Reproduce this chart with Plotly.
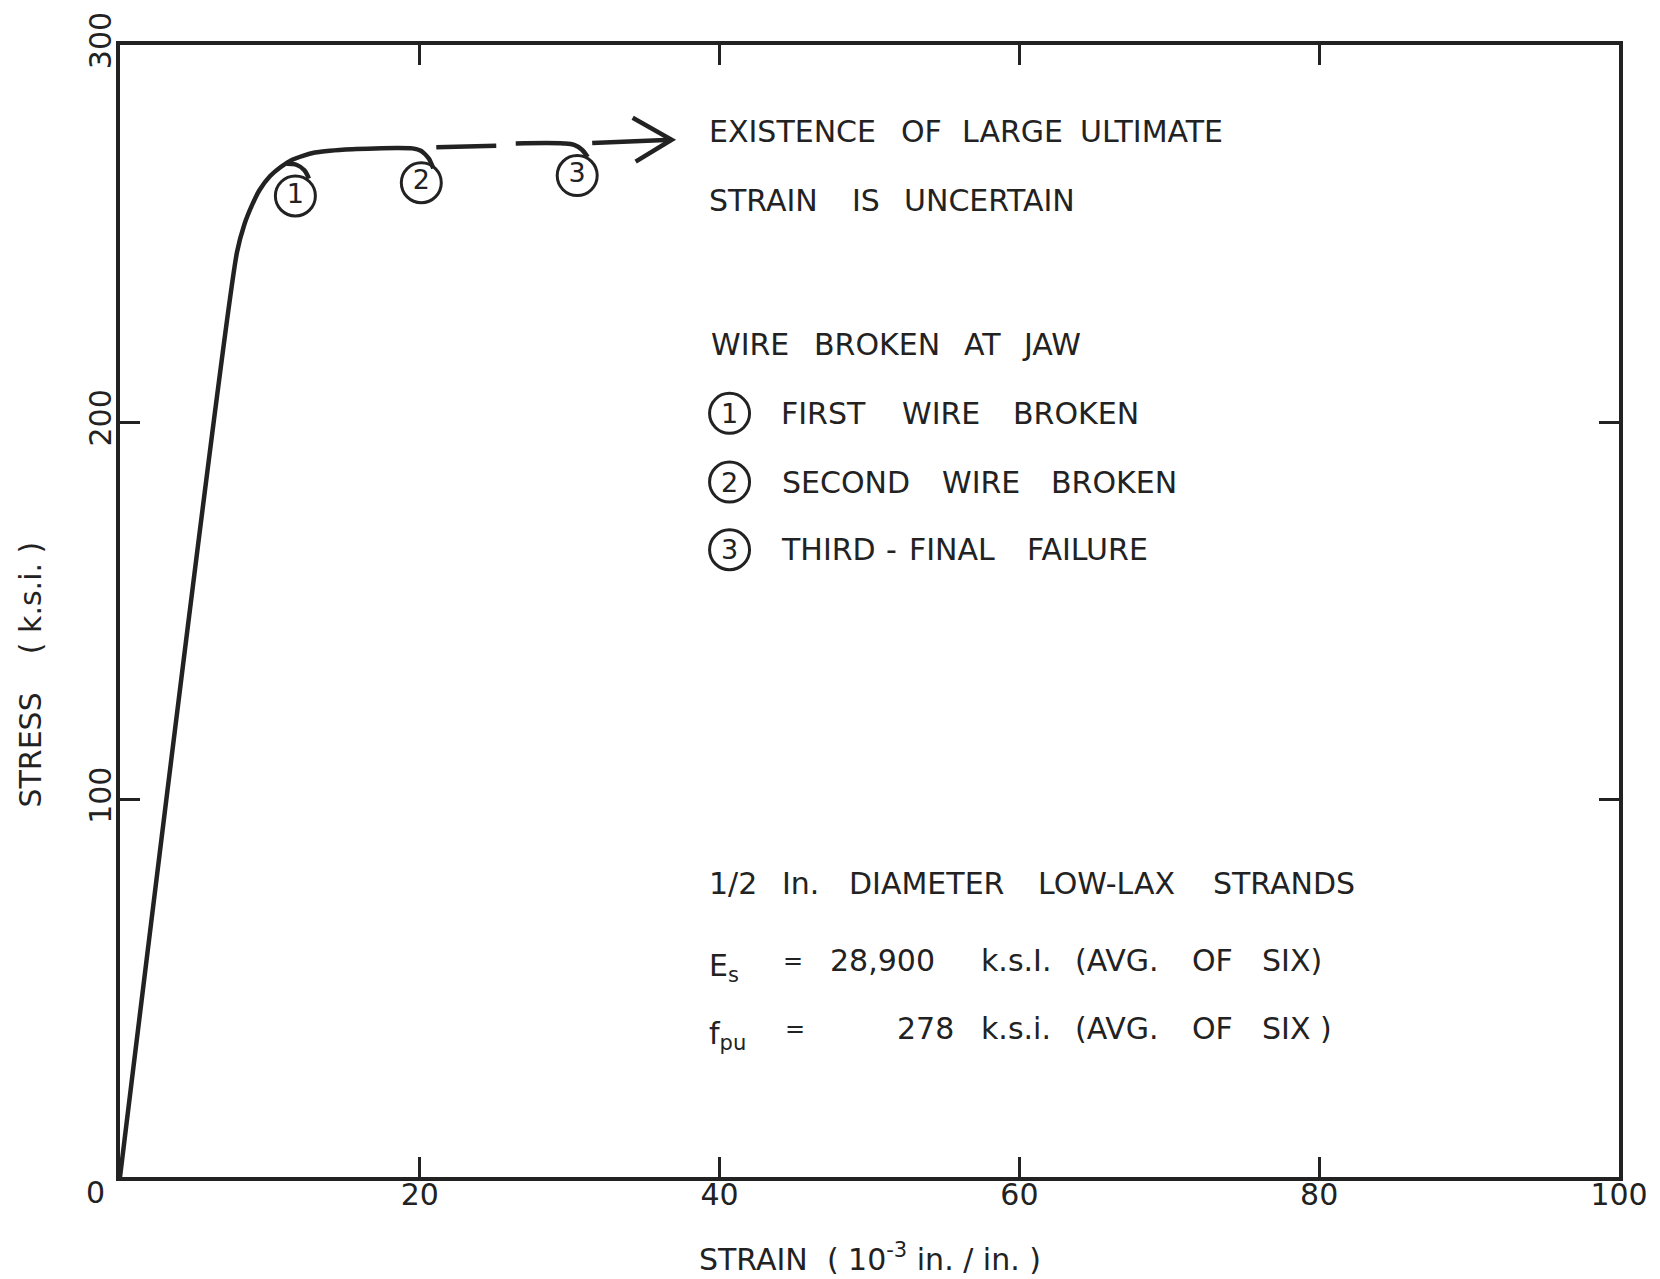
import plotly.graph_objects as go

# ---- data (strain in 10^-3 in./in., stress in k.s.i.) ----
main_strain = [0, 7.8, 8.3, 8.8, 9.3, 10.0, 10.7, 11.4, 12.2, 13.0, 14.0, 15.5, 17.0, 18.5, 19.5, 20.1, 20.6, 20.9]
main_stress = [0, 245, 252.5, 257.5, 261.5, 265.2, 267.6, 269.4, 270.6, 271.5, 272.0, 272.4, 272.6, 272.7, 272.6, 271.9, 269.9, 267.3]

curl1_strain = [11.1, 11.8, 12.3, 12.6]
curl1_stress = [268.5, 268.2, 266.8, 264.6]

dash1_strain = [21.1, 25.1]
dash1_stress = [272.9, 273.3]
dash2_strain = [26.4, 29.6, 30.3, 30.8, 31.2]
dash2_stress = [273.9, 273.9, 273.5, 272.3, 270.3]

arrow_strain = [31.5, 36.8]
arrow_stress = [274.0, 274.9]
head_strain = [34.2, 36.8, 34.4]
head_stress = [280.7, 274.9, 269.1]

marker_strain = [11.7, 20.1, 30.5]
marker_stress = [260.0, 263.5, 265.4]
marker_labels = ["1", "2", "3"]

x_ticks = [0, 20, 40, 60, 80, 100]
x_ticktext = ["", "20", "40", "60", "80", "100"]
y_ticks = [0, 100, 200, 300]
y_ticktext = ["", "100", "200", "300"]

INK = "#222222"
FONT = "DejaVu Sans"

# plot-area pixel geometry
PL, PR, PT, PB = 120, 1625, 40, 1177


def px(x):
    return (x - PL) / (PR - PL)


def py(y):
    return (PB - y) / (PB - PT)


fig = go.Figure()

line_style = dict(color=INK, width=4.5)
fig.add_trace(go.Scatter(x=main_strain, y=main_stress, mode="lines", line=dict(**line_style, shape="spline", smoothing=0.6)))
fig.add_trace(go.Scatter(x=curl1_strain, y=curl1_stress, mode="lines", line=dict(**line_style, shape="spline")))
fig.add_trace(go.Scatter(x=dash1_strain, y=dash1_stress, mode="lines", line=line_style))
fig.add_trace(go.Scatter(x=dash2_strain, y=dash2_stress, mode="lines", line=dict(**line_style, shape="spline")))
fig.add_trace(go.Scatter(x=arrow_strain, y=arrow_stress, mode="lines", line=line_style))
fig.add_trace(go.Scatter(x=head_strain, y=head_stress, mode="lines", line=line_style))
fig.add_trace(go.Scatter(
    x=marker_strain, y=marker_stress, mode="markers+text",
    marker=dict(symbol="circle-open", size=40, color=INK, line=dict(width=3, color=INK)),
    text=marker_labels, textposition="middle center",
    textfont=dict(family=FONT, size=27, color=INK),
))

annotations = []


def word(text, x, y, size=30, anchor="left", **kw):
    annotations.append(dict(
        text=text, x=px(x), y=py(y), xref="paper", yref="paper",
        xanchor=anchor, yanchor="middle", showarrow=False,
        font=dict(family=FONT, size=size, color=INK), **kw))


# text block
lines = [
    (127, [("EXISTENCE", 709), ("OF", 902), ("LARGE", 963), ("ULTIMATE", 1082)]),
    (196, [("STRAIN", 709), ("IS", 853), ("UNCERTAIN", 905)]),
    (341, [("WIRE", 711), ("BROKEN", 815), ("AT", 965), ("JAW", 1024)]),
    (410, [("FIRST", 782), ("WIRE", 903), ("BROKEN", 1015)]),
    (479, [("SECOND", 783), ("WIRE", 943), ("BROKEN", 1053)]),
    (547, [("THIRD", 782), ("FINAL", 910), ("FAILURE", 1029)]),
    (882, [("1/2", 709), ("In.", 783), ("DIAMETER", 850), ("LOW-LAX", 1040), ("STRANDS", 1215)]),
    (960, [("28,900", 831), ("k.s.I.", 982), ("(AVG.", 1077), ("OF", 1194), ("SIX)", 1265)]),
    (1028, [("278", 898), ("k.s.i.", 982), ("(AVG.", 1077), ("OF", 1194), ("SIX )", 1265)]),
]
for y, words in lines:
    for t, x in words:
        word(t, x, y)

word("-", 895, 547, anchor="center")
word("E<sub>s</sub>", 709, 967)
word("f<sub>pu</sub>", 709, 1035)
word("=", 796, 960, size=24, anchor="center")
word("=", 798, 1028, size=24, anchor="center")

# legend circles
shapes = []
for num, y in [("1", 410), ("2", 479), ("3", 547)]:
    shapes.append(dict(type="circle", xref="paper", yref="paper",
                       xsizemode="pixel", ysizemode="pixel",
                       xanchor=px(732), yanchor=py(y), x0=-20, x1=20, y0=-20, y1=20,
                       line=dict(color=INK, width=3)))
    word(num, 732, y, size=27, anchor="center")

# corner zero, axis titles
word("0", 95, 1193, size=30, anchor="center")
word("STRAIN  ( 10<sup>-3</sup> in. / in. )", 873, 1258, size=30, anchor="center")
annotations.append(dict(
    text="STRESS    ( k.s.i. )", x=px(30), y=py(672), xref="paper", yref="paper",
    xanchor="center", yanchor="middle", showarrow=False, textangle=-90,
    font=dict(family=FONT, size=30, color=INK)))

axis_common = dict(
    showline=True, linecolor=INK, linewidth=3.5, mirror="ticks",
    ticks="inside", ticklen=20, tickwidth=3, tickcolor=INK,
    showgrid=False, zeroline=False,
    tickfont=dict(family=FONT, size=30, color=INK),
)

fig.update_layout(
    width=1660, height=1279,
    margin=dict(l=PL, r=1660 - PR, t=PT, b=1279 - PB),
    paper_bgcolor="white", plot_bgcolor="white",
    showlegend=False,
    xaxis=dict(range=[0, 100], tickvals=x_ticks, ticktext=x_ticktext, ticklabelstandoff=-12, **axis_common),
    yaxis=dict(range=[0, 300], tickvals=y_ticks, ticktext=y_ticktext, tickangle=-90, ticklabelstandoff=-7, **axis_common),
    annotations=annotations,
    shapes=shapes,
)

fig.write_html("out.html")
